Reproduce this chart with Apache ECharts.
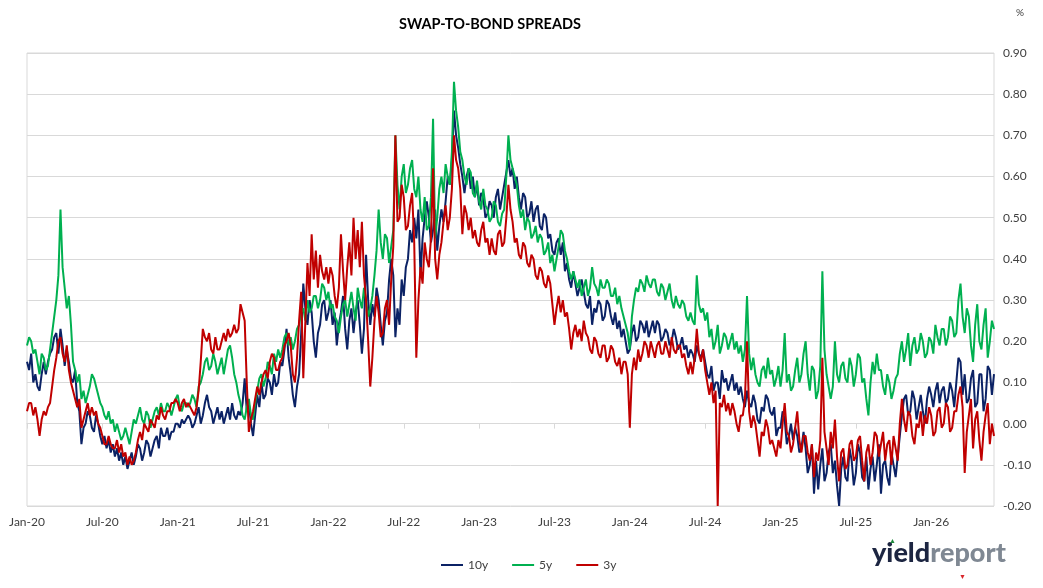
<!DOCTYPE html>
<html>
<head>
<meta charset="utf-8">
<script src="https://cdn.jsdelivr.net/npm/echarts@6/dist/echarts.min.js"></script>
<style>
html,body{margin:0;padding:0;background:#fff;}
#c{width:1043px;height:588px;}
</style>
</head>
<body>
<div id="c"></div>
<script>
// Month index 0 = Jan-2020; one reading every sixth of a month
const stepMonths = 1/6;
const xTickLabels = ['Jan-20','Jul-20','Jan-21','Jul-21','Jan-22','Jul-22','Jan-23','Jul-23','Jan-24','Jul-24','Jan-25','Jul-25','Jan-26'];
const seriesNames = ['10y','5y','3y'];

const y10 = [
0.15,0.13,0.17,0.10,0.12,0.09, 0.08,0.12,0.15,0.12,0.15,0.17, 0.18,0.21,0.22,0.17,0.23,0.19,
0.14,0.18,0.15,0.11,0.10,0.13, 0.05,0.03,-0.05,-0.01,0.00,0.03, 0.02,-0.01,-0.02,0.02,0.00,-0.03,
-0.05,-0.03,-0.06,-0.04,-0.07,-0.05, -0.08,-0.06,-0.09,-0.07,-0.10,-0.08, -0.11,-0.09,-0.07,-0.10,-0.08,-0.05,
-0.06,-0.09,-0.07,-0.04,-0.05,-0.08, -0.06,-0.04,-0.03,-0.06,-0.01,-0.03, -0.03,-0.01,-0.04,-0.02,-0.02,0.00,
0.00,-0.01,0.01,0.00,0.01,0.02, 0.01,-0.01,0.00,0.02,0.04,0.00, 0.02,0.05,0.07,0.04,0.03,0.00,
0.02,0.04,0.01,0.03,0.00,0.02, 0.04,0.01,0.05,0.02,0.01,0.03, 0.02,0.05,0.11,0.03,0.05,0.00,
-0.03,0.02,0.07,0.04,0.10,0.06, 0.07,0.11,0.10,0.07,0.12,0.09, 0.10,0.15,0.14,0.18,0.23,0.16,
0.12,0.07,0.04,0.09,0.12,0.22, 0.34,0.28,0.24,0.30,0.27,0.20, 0.16,0.22,0.24,0.29,0.30,0.25,
0.27,0.30,0.24,0.27,0.19,0.24, 0.27,0.31,0.23,0.18,0.25,0.28, 0.22,0.27,0.30,0.24,0.17,0.23,
0.41,0.30,0.24,0.29,0.26,0.33, 0.30,0.24,0.19,0.25,0.27,0.35, 0.40,0.36,0.21,0.28,0.24,0.35,
0.31,0.38,0.40,0.47,0.44,0.50, 0.45,0.52,0.36,0.45,0.50,0.54, 0.50,0.44,0.47,0.52,0.42,0.48,
0.52,0.49,0.54,0.60,0.58,0.64, 0.76,0.70,0.67,0.63,0.60,0.56, 0.60,0.62,0.57,0.60,0.55,0.58,
0.53,0.56,0.55,0.50,0.51,0.54, 0.53,0.50,0.55,0.57,0.52,0.55, 0.58,0.61,0.64,0.60,0.62,0.57,
0.60,0.55,0.52,0.56,0.55,0.50, 0.51,0.54,0.49,0.52,0.53,0.48, 0.47,0.51,0.50,0.45,0.46,0.42,
0.41,0.44,0.45,0.41,0.44,0.37, 0.39,0.35,0.33,0.37,0.34,0.31, 0.33,0.35,0.32,0.29,0.28,0.31,
0.24,0.28,0.27,0.30,0.29,0.25, 0.26,0.30,0.29,0.26,0.24,0.27, 0.23,0.25,0.21,0.23,0.20,0.17,
0.18,0.22,0.24,0.20,0.21,0.25, 0.24,0.22,0.25,0.21,0.23,0.25, 0.22,0.25,0.24,0.20,0.21,0.23,
0.22,0.19,0.20,0.23,0.21,0.18, 0.19,0.21,0.18,0.19,0.16,0.18, 0.17,0.15,0.19,0.17,0.16,0.18,
0.15,0.12,0.11,0.14,0.08,0.10, 0.10,0.06,0.13,0.10,0.11,0.08, 0.10,0.12,0.08,0.10,0.07,0.09,
0.06,0.04,0.08,0.05,0.04,0.07, 0.05,0.01,0.00,0.04,0.03,0.07, 0.06,0.03,0.02,0.04,-0.03,-0.01,
-0.01,0.03,0.01,-0.05,-0.03,0.00, -0.04,-0.01,-0.03,-0.07,-0.06,-0.02, -0.06,-0.12,-0.10,-0.05,-0.17,-0.09,
-0.16,-0.10,-0.06,-0.14,-0.12,-0.07, -0.05,-0.12,-0.09,-0.15,-0.20,-0.11, -0.08,-0.13,-0.14,-0.06,-0.09,-0.15,
-0.12,-0.05,-0.07,-0.13,-0.14,-0.08, -0.16,-0.11,-0.08,-0.14,-0.10,-0.05, -0.17,-0.10,-0.09,-0.13,-0.15,-0.07,
-0.10,-0.13,-0.08,-0.03,0.02,0.06, 0.07,0.02,0.03,0.08,0.06,0.01, 0.04,0.07,0.03,0.00,0.06,0.09,
0.07,0.04,0.08,0.10,0.05,0.08, 0.09,0.05,0.06,0.10,0.08,0.04, 0.10,0.16,0.15,0.07,0.12,0.05,
0.06,0.11,0.13,0.04,0.05,0.12, 0.12,0.03,0.06,0.14,0.13,0.07, 0.12
];

const y5 = [
0.19,0.21,0.20,0.17,0.18,0.15, 0.12,0.17,0.16,0.13,0.14,0.18, 0.22,0.26,0.30,0.36,0.52,0.38,
0.33,0.28,0.31,0.24,0.15,0.13, 0.10,0.12,0.06,0.08,0.05,0.07, 0.09,0.12,0.11,0.09,0.07,0.05,
0.04,0.02,0.01,0.03,0.00,0.01, -0.02,0.00,-0.02,-0.04,-0.03,-0.01, -0.03,-0.05,-0.02,0.01,0.00,0.02,
0.04,0.01,0.00,0.03,0.02,-0.01, 0.01,0.03,0.04,0.02,0.05,0.03, 0.03,0.05,0.04,0.02,0.04,0.06,
0.07,0.04,0.03,0.05,0.05,0.04, 0.05,0.07,0.06,0.04,0.09,0.10, 0.12,0.15,0.16,0.13,0.14,0.17,
0.15,0.12,0.14,0.16,0.12,0.15, 0.18,0.19,0.16,0.12,0.10,0.07, 0.05,0.02,0.01,0.04,0.06,0.02,
0.01,0.05,0.08,0.11,0.12,0.09, 0.11,0.15,0.14,0.12,0.17,0.15, 0.18,0.16,0.18,0.21,0.22,0.19,
0.21,0.18,0.20,0.23,0.24,0.27, 0.28,0.25,0.30,0.27,0.28,0.31, 0.31,0.28,0.30,0.34,0.33,0.30,
0.32,0.28,0.29,0.26,0.25,0.22, 0.26,0.29,0.30,0.26,0.29,0.32, 0.28,0.25,0.33,0.30,0.28,0.33,
0.30,0.26,0.28,0.31,0.36,0.42, 0.52,0.44,0.40,0.46,0.45,0.39, 0.43,0.47,0.70,0.58,0.52,0.60,
0.63,0.56,0.58,0.62,0.64,0.57, 0.55,0.60,0.52,0.49,0.55,0.47, 0.48,0.55,0.74,0.45,0.50,0.57,
0.60,0.56,0.63,0.60,0.58,0.66, 0.83,0.76,0.72,0.66,0.64,0.60, 0.58,0.62,0.61,0.56,0.55,0.59,
0.54,0.52,0.57,0.53,0.52,0.49, 0.50,0.54,0.53,0.49,0.48,0.51, 0.52,0.60,0.70,0.64,0.62,0.60,
0.58,0.53,0.50,0.52,0.47,0.50, 0.49,0.45,0.46,0.48,0.44,0.46, 0.45,0.41,0.42,0.44,0.39,0.41,
0.37,0.40,0.43,0.47,0.46,0.42, 0.40,0.37,0.35,0.37,0.35,0.33, 0.35,0.31,0.33,0.35,0.31,0.33,
0.38,0.34,0.33,0.31,0.35,0.33, 0.33,0.35,0.34,0.31,0.31,0.33, 0.29,0.31,0.28,0.26,0.24,0.22,
0.18,0.26,0.30,0.33,0.32,0.35, 0.34,0.32,0.36,0.34,0.33,0.35, 0.35,0.32,0.31,0.34,0.33,0.30,
0.32,0.34,0.30,0.28,0.31,0.29, 0.28,0.30,0.29,0.26,0.25,0.27, 0.25,0.24,0.36,0.29,0.27,0.28,
0.25,0.27,0.21,0.23,0.18,0.20, 0.24,0.17,0.19,0.22,0.21,0.18, 0.20,0.22,0.18,0.20,0.17,0.19,
0.15,0.18,0.31,0.17,0.13,0.16, 0.12,0.10,0.09,0.13,0.14,0.11, 0.16,0.12,0.13,0.09,0.11,0.14,
0.09,0.13,0.22,0.10,0.12,0.08, 0.09,0.13,0.16,0.10,0.12,0.17, 0.20,0.12,0.08,0.14,0.13,0.06,
0.08,0.14,0.37,0.18,0.12,0.09, 0.06,0.09,0.20,0.12,0.10,0.14, 0.15,0.11,0.10,0.16,0.14,0.09,
0.12,0.17,0.16,0.10,0.11,0.06, 0.02,0.10,0.15,0.12,0.17,0.13, 0.13,0.09,0.07,0.12,0.10,0.06,
0.08,0.11,0.12,0.17,0.20,0.15, 0.18,0.22,0.14,0.19,0.21,0.17, 0.18,0.22,0.20,0.16,0.17,0.21,
0.20,0.17,0.24,0.21,0.19,0.23, 0.23,0.19,0.21,0.26,0.25,0.21, 0.22,0.30,0.34,0.26,0.22,0.28,
0.26,0.19,0.15,0.24,0.29,0.20, 0.18,0.24,0.28,0.16,0.20,0.25, 0.23
];

const y3 = [
0.03,0.05,0.05,0.02,0.04,0.01, -0.03,0.01,0.03,0.02,0.04,0.05, 0.09,0.13,0.16,0.20,0.21,0.17,
0.15,0.19,0.13,0.10,0.08,0.06, 0.04,0.06,-0.01,0.01,0.03,0.05, 0.02,0.04,0.02,0.03,0.00,-0.01,
-0.03,-0.05,-0.05,-0.03,-0.05,-0.06, -0.06,-0.04,-0.07,-0.05,-0.08,-0.07, -0.10,-0.08,-0.10,-0.09,-0.07,-0.04,
-0.02,-0.04,0.00,-0.01,-0.02,0.01, 0.00,-0.01,0.02,0.01,0.04,0.02, 0.01,0.03,0.03,0.05,0.05,0.06,
0.05,0.03,0.05,0.06,0.04,0.05, 0.04,0.03,0.02,0.04,0.08,0.15, 0.23,0.21,0.20,0.22,0.18,0.17,
0.21,0.18,0.18,0.20,0.22,0.20, 0.23,0.21,0.22,0.24,0.22,0.23, 0.29,0.27,0.25,0.10,-0.02,0.01,
0.03,0.06,0.09,0.07,0.10,0.12, 0.13,0.11,0.15,0.17,0.16,0.13, 0.13,0.15,0.16,0.19,0.20,0.22,
0.19,0.12,0.10,0.16,0.25,0.32, 0.11,0.25,0.39,0.31,0.46,0.35, 0.42,0.33,0.41,0.37,0.35,0.38,
0.34,0.38,0.36,0.31,0.28,0.33, 0.46,0.37,0.30,0.38,0.44,0.36, 0.50,0.40,0.47,0.38,0.49,0.36,
0.30,0.20,0.09,0.16,0.25,0.31, 0.27,0.21,0.22,0.28,0.30,0.24, 0.35,0.43,0.70,0.49,0.50,0.58,
0.55,0.47,0.48,0.53,0.56,0.44, 0.16,0.30,0.38,0.34,0.44,0.40, 0.38,0.45,0.62,0.40,0.35,0.41,
0.44,0.49,0.53,0.47,0.50,0.57, 0.70,0.64,0.62,0.57,0.46,0.53, 0.51,0.47,0.50,0.45,0.47,0.44,
0.43,0.47,0.49,0.44,0.45,0.41, 0.45,0.42,0.41,0.46,0.47,0.43, 0.44,0.50,0.58,0.52,0.49,0.44,
0.45,0.41,0.40,0.44,0.43,0.39, 0.38,0.41,0.40,0.36,0.35,0.38, 0.37,0.34,0.33,0.36,0.34,0.29,
0.24,0.28,0.31,0.27,0.30,0.26, 0.27,0.23,0.18,0.22,0.24,0.21, 0.23,0.20,0.25,0.22,0.21,0.18,
0.17,0.21,0.20,0.17,0.16,0.19, 0.19,0.15,0.16,0.19,0.18,0.15, 0.14,0.16,0.12,0.15,0.15,0.12,
-0.01,0.12,0.16,0.13,0.18,0.15, 0.17,0.20,0.19,0.16,0.20,0.18, 0.16,0.19,0.20,0.17,0.17,0.20,
0.18,0.16,0.21,0.18,0.17,0.19, 0.19,0.16,0.17,0.14,0.12,0.15, 0.12,0.16,0.23,0.17,0.15,0.18,
0.13,0.10,0.07,0.10,0.05,0.08, -0.20,0.05,0.04,0.07,0.03,0.05, 0.02,0.05,0.03,0.00,-0.02,0.02,
0.02,0.06,0.20,0.03,-0.01,0.02, 0.00,-0.04,-0.08,-0.02,-0.03,0.01, -0.01,-0.05,-0.04,-0.06,-0.08,-0.04,
-0.06,0.00,0.05,-0.02,-0.03,-0.07, -0.05,-0.01,0.03,-0.04,-0.07,-0.03, -0.03,-0.07,-0.09,-0.05,-0.13,-0.07,
-0.09,-0.04,0.16,-0.02,-0.06,-0.10, -0.02,-0.06,0.01,-0.08,-0.14,-0.07, -0.06,-0.11,-0.10,-0.05,-0.04,-0.09,
-0.08,-0.04,-0.03,-0.09,-0.14,-0.07, -0.05,-0.10,-0.07,-0.02,-0.03,-0.08, -0.05,-0.02,-0.09,-0.05,-0.04,-0.10,
-0.03,-0.06,-0.09,0.00,0.06,0.01, -0.02,0.03,0.02,-0.03,-0.05,0.00, -0.01,0.03,-0.03,0.02,0.00,0.04,
0.02,-0.03,-0.02,0.03,0.04,-0.01, 0.00,0.05,0.04,-0.02,-0.01,0.03, 0.03,0.07,0.09,0.04,-0.12,-0.02,
0.02,0.06,-0.06,0.01,0.03,-0.04, -0.09,-0.02,0.02,0.05,-0.05,0.00, -0.03
];

const colors = ['#0b2265', '#00b050', '#c00000'];
const toPairs = arr => arr.map((v, i) => [i * stepMonths, v]);
const values = [y10, y5, y3];

const chart = echarts.init(document.getElementById('c'), null, {renderer: 'canvas'});
const font = 'Lato, "Open Sans", sans-serif';

chart.setOption({
  animation: false,
  backgroundColor: '#ffffff',
  title: {
    text: 'SWAP-TO-BOND SPREADS',
    left: 394, top: 12,
    textStyle: {fontFamily: font, fontWeight: 'bold', fontSize: 14.5, color: '#000'}
  },
  legend: {
    data: seriesNames,
    left: 436, bottom: 12,
    icon: 'rect', itemWidth: 22, itemHeight: 2, itemGap: 24, itemTextGap: 4,
    textStyle: {fontFamily: font, fontSize: 12, color: '#404040'}
  },
  grid: {
    left: 27, right: 49, top: 53, bottom: 82,
    show: true, borderColor: '#d9d9d9', borderWidth: 1
  },
  xAxis: {
    type: 'value', min: 0, max: 77, interval: 6,
    axisLine: {show: true, lineStyle: {color: '#d9d9d9'}},
    axisTick: {show: true, length: 5, lineStyle: {color: '#d9d9d9'}},
    splitLine: {show: false},
    axisLabel: {
      margin: 10, fontFamily: font, fontSize: 12, color: '#404040',
      formatter: v => { const k = Math.round(v / 6); return (Math.abs(v - k*6) < 1e-6 && xTickLabels[k]) ? xTickLabels[k] : ''; }
    }
  },
  yAxis: {
    type: 'value', position: 'right', min: -0.2, max: 0.9, interval: 0.1,
    axisLine: {show: false}, axisTick: {show: false},
    splitLine: {lineStyle: {color: '#d9d9d9'}},
    axisLabel: {margin: 9, fontFamily: font, fontSize: 12, color: '#404040',
      formatter: v => v.toFixed(2)}
  },
  graphic: [
    {type: 'text', left: 1016, top: 8, style: {text: '%', font: '10px ' + font, fill: '#404040'}},
    {type: 'text', left: 872, top: 540, style: {
      text: '{a|yield}{b|report}',
      rich: {
        a: {fontFamily: font, fontWeight: 900, fontSize: 27, fill: '#1c2541'},
        b: {fontFamily: font, fontWeight: 900, fontSize: 27, fill: '#7f8893'}
      }
    }},
    {type: 'text', left: 889, top: 538, style: {text: '▲', font: '7px sans-serif', fill: '#1e8a3c'}},
    {type: 'text', left: 959, top: 574, style: {text: '▼', font: '7px sans-serif', fill: '#d9262b'}}
  ],
  series: values.map((arr, k) => ({
    name: seriesNames[k],
    type: 'line',
    data: toPairs(arr),
    showSymbol: false,
    symbol: 'none',
    color: colors[k],
    lineStyle: {width: 2, color: colors[k]},
    z: 2 + k
  }))
});
</script>
</body>
</html>
